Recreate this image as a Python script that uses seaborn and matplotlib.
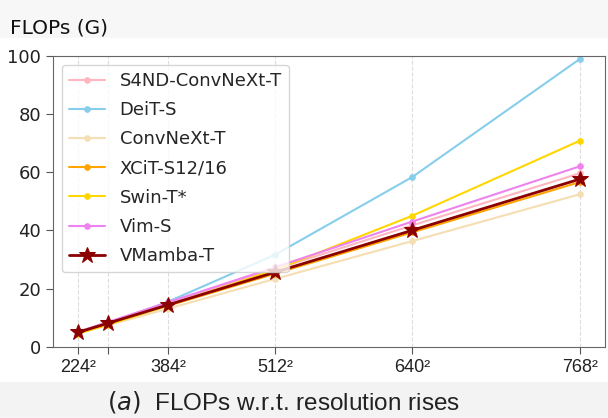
import numpy as np
import pandas as pd
import matplotlib
matplotlib.use("Agg")
import matplotlib.pyplot as plt
from matplotlib import font_manager
import seaborn as sns

# resolutions (x axis is linear in pixel count, i.e. res^2)
resolutions = [224, 288, 384, 512, 640, 768]
tick_labels = ["224²", "", "384²", "512²", "640²", "768²"]

models = ["S4ND-ConvNeXt-T", "DeiT-S", "ConvNeXt-T", "XCiT-S12/16", "Swin-T*", "Vim-S", "VMamba-T"]
flops_s4nd = [5.1, 8.4, 15.0, 26.6, 41.7, 59.6]
flops_deit = [4.6, 7.8, 15.5, 31.6, 58.3, 98.9]
flops_convnext = [4.5, 7.4, 13.1, 23.3, 36.3, 52.4]
flops_xcit = [4.8, 7.9, 14.1, 25.1, 39.3, 56.6]
flops_swin = [4.5, 7.6, 14.2, 26.4, 45.0, 70.8]
flops_vim = [5.1, 8.5, 15.3, 27.3, 43.0, 62.0]
flops_vmamba = [4.9, 8.1, 14.4, 25.6, 40.0, 57.6]

colors = ["#ffb6c1", "#87ceeb", "#f5deb3", "#ffa500", "#ffd700", "#ee82ee", "#8b0000"]

all_flops = [flops_s4nd, flops_deit, flops_convnext, flops_xcit, flops_swin, flops_vim, flops_vmamba]
rows = []
for m, vals in zip(models, all_flops):
    for r, v in zip(resolutions, vals):
        rows.append({"model": m, "pixels": r * r, "flops": v})
df = pd.DataFrame(rows)

# narrow font for x ticks / caption if it is there
try:
    font_manager.findfont("Liberation Sans Narrow", fallback_to_default=False)
    narrow, nscale = "Liberation Sans Narrow", 1.15
except Exception:
    narrow, nscale = "Liberation Sans", 1.0

sns.set_style("ticks")
plt.rcParams["font.family"] = ["DejaVu Sans"]

fig = plt.figure(figsize=(6.08, 4.18), dpi=100)
# light grey bands of the screenshot (top and caption)
fig.patches.append(plt.Rectangle((0, 0.909), 1, 0.091, transform=fig.transFigure,
                                 facecolor="#f7f7f7", edgecolor="none", zorder=-10))
fig.patches.append(plt.Rectangle((0, 0), 1, 0.085, transform=fig.transFigure,
                                 facecolor="#f3f3f3", edgecolor="none", zorder=-10))
ax = fig.add_axes([0.0867, 0.1706, 0.9083, 0.696])

for m, c in zip(models, colors):
    sub = df[df["model"] == m]
    if m == "VMamba-T":
        sns.lineplot(data=sub, x="pixels", y="flops", ax=ax, color=c, marker="*",
                     markersize=12, linewidth=2, label=m, markeredgecolor=c, zorder=5)
    else:
        sns.lineplot(data=sub, x="pixels", y="flops", ax=ax, color=c, marker="o",
                     markersize=4, linewidth=1.5, label=m, markeredgecolor=c)

ax.set_ylim(0, 100)
ax.set_yticks([0, 20, 40, 60, 80, 100])
ax.set_xticks([r * r for r in resolutions])
ax.set_xticklabels(tick_labels, fontfamily=narrow, fontsize=13 * nscale, color="#222222")
ax.tick_params(axis="y", labelsize=13, labelcolor="#222222")
ax.tick_params(axis="both", length=5, color="#555555")
ax.tick_params(axis="x", pad=4)
ax.set_xlabel("")
ax.set_ylabel("")
ax.grid(axis="x", linestyle="--", color="#dddddd", linewidth=0.8)
for s in ax.spines.values():
    s.set_color("#666666")
    s.set_visible(True)

ax.legend(loc="upper left", fontsize=13, frameon=True, borderaxespad=0.5,
          labelspacing=0.62)

fig.text(0.016, 0.921, "FLOPs (G)", fontsize=14.5, ha="left", va="baseline",
         color="#111111")
fig.text(0.467, 0.038, "$(a)$  FLOPs w.r.t. resolution rises", fontsize=17.5 * nscale,
         ha="center", va="center", fontfamily=narrow, color="#222222")

fig.savefig("out.png", dpi=100)
